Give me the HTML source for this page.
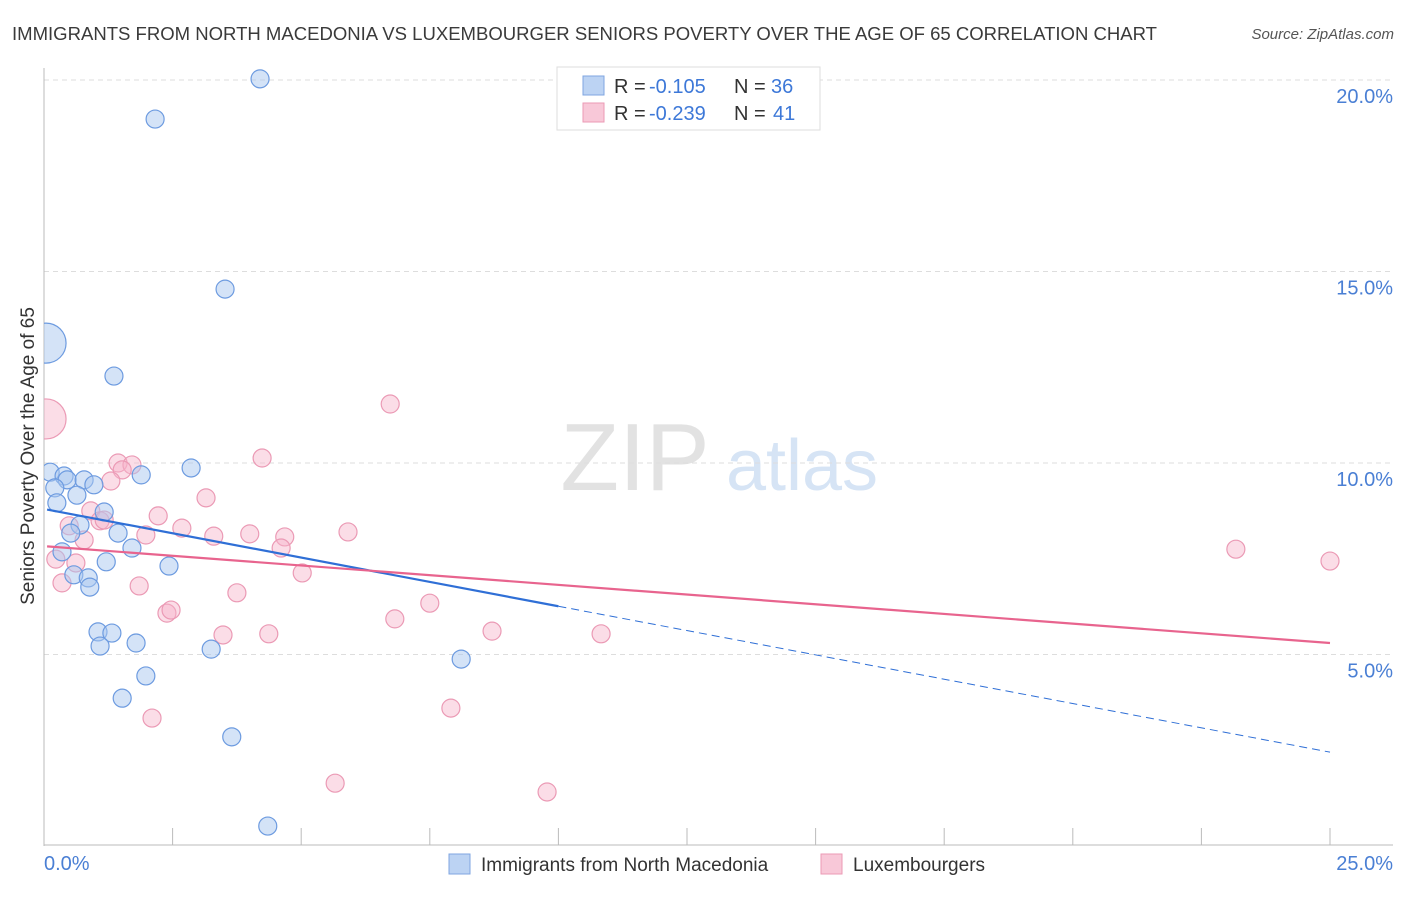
<!DOCTYPE html>
<html><head><meta charset="utf-8"><style>
body{margin:0;background:#fff;font-family:"Liberation Sans",sans-serif;}
svg text{font-family:"Liberation Sans",sans-serif;}
</style></head><body>
<svg id="chart" width="1406" height="892">
<defs><clipPath id="plotclip"><rect x="44" y="60" width="1360" height="786"/></clipPath></defs>
<text x="12" y="40" font-size="18.2" fill="#3a3a3a" textLength="1145" lengthAdjust="spacingAndGlyphs">IMMIGRANTS FROM NORTH MACEDONIA VS LUXEMBOURGER SENIORS POVERTY OVER THE AGE OF 65 CORRELATION CHART</text>
<text x="1394" y="39" font-size="15" fill="#555" font-style="italic" text-anchor="end">Source: ZipAtlas.com</text>
<g>
<text x="635" y="490" font-size="96" fill="#e2e2e2" font-family="Liberation Serif,serif" text-anchor="middle">ZIP</text>
<text x="802" y="490" font-size="72" fill="#d6e4f5" text-anchor="middle">atlas</text>
</g>
<g id="grid"></g>
<g id="axes"></g>
<g id="marks" clip-path="url(#plotclip)"></g>
<text transform="translate(34,456) rotate(-90)" font-size="19" fill="#333" text-anchor="middle">Seniors Poverty Over the Age of 65</text>
<g>
<rect x="557" y="67" width="263" height="63" fill="#fff" stroke="#ddd"/>
<rect x="583" y="76" width="21" height="19" fill="#bcd3f3" stroke="#7fa6e0"/>
<rect x="583" y="103" width="21" height="19" fill="#f8c8d8" stroke="#eb9ab5"/>
<text x="614" y="93" font-size="20" fill="#333">R = </text>
<text x="649" y="93" font-size="20" fill="#3d78d8">-0.105</text>
<text x="734" y="93" font-size="20" fill="#333">N = </text>
<text x="771" y="93" font-size="20" fill="#3d78d8">36</text>
<text x="614" y="120" font-size="20" fill="#333">R = </text>
<text x="649" y="120" font-size="20" fill="#3d78d8">-0.239</text>
<text x="734" y="120" font-size="20" fill="#333">N = </text>
<text x="773" y="120" font-size="20" fill="#3d78d8">41</text>
</g>
<g>
<rect x="449" y="854" width="21" height="20" fill="#bcd3f3" stroke="#7fa6e0"/>
<text x="481" y="871" font-size="19" fill="#333">Immigrants from North Macedonia</text>
<rect x="821" y="854" width="21" height="20" fill="#f8c8d8" stroke="#eb9ab5"/>
<text x="853" y="871" font-size="19" fill="#333">Luxembourgers</text>
</g>
</svg>
<script>
const blueX=[0.12,0.39,0.45,0.21,0.78,0.97,0.64,0.25,1.17,0.70,0.52,1.44,0.35,1.71,1.21,2.43,0.58,0.86,0.89,1.89,2.86,1.05,1.32,1.09,1.79,1.98,1.52,3.25,3.65,4.35,8.11,3.52,1.36,2.16,4.20,0.04];
const blueY=[9.76,9.66,9.56,9.35,9.56,9.43,9.16,8.96,8.72,8.38,8.17,8.17,7.68,7.78,7.42,7.31,7.08,7.00,6.76,9.69,9.87,5.59,5.56,5.22,5.30,4.44,3.86,5.14,2.85,0.52,4.88,14.54,12.27,18.98,20.03,13.13];
const blueBig=[35];
const pinkX=[0.04,1.44,1.71,1.52,1.30,4.24,6.73,3.15,2.22,0.91,1.09,0.49,2.68,0.78,1.98,3.30,4.00,4.68,5.91,4.61,0.23,0.62,0.35,1.85,5.02,3.75,2.39,2.47,7.50,3.48,4.37,6.82,8.71,10.83,2.10,7.91,5.66,9.78,23.17,25.0,1.17];
const pinkY=[11.15,10.0,9.95,9.82,9.53,10.13,11.54,9.09,8.62,8.75,8.49,8.36,8.30,7.99,8.12,8.09,8.15,8.07,8.20,7.78,7.49,7.39,6.87,6.79,7.13,6.61,6.08,6.16,6.34,5.51,5.54,5.93,5.61,5.54,3.34,3.60,1.64,1.41,7.75,7.44,8.51];
const pinkBig=[0];
const blueTrend=[8.80,2.45];
const pinkTrend=[7.83,5.30];
const yTicks=[5,10,15,20];
const yTickLabels=["5.0%","10.0%","15.0%","20.0%"];
const xTickLabels=["0.0%","25.0%"];

const NS="http://www.w3.org/2000/svg";
const sx=v=>44+v*51.44, sy=v=>846-v*38.3;
function mk(parent,tag,attrs){const e=document.createElementNS(NS,tag);for(const k in attrs)e.setAttribute(k,attrs[k]);document.getElementById(parent).appendChild(e);return e;}
yTicks.forEach((t,i)=>{
  const g=mk('grid','line',{x1:44,x2:1393,y1:sy(t),y2:sy(t),stroke:'#ddd','stroke-dasharray':'5,4'});
  
  
  const l=mk('axes','text',{x:1393,y:sy(t)+23,'font-size':20,fill:'#4a7fd4','text-anchor':'end'});
  l.textContent=yTickLabels[i];
  
  
});
const ya=mk('axes','line',{x1:44,x2:44,y1:68,y2:846,stroke:'#bbb'});


const xa=mk('axes','line',{x1:44,x2:1393,y1:845,y2:845,stroke:'#bbb'});


for(let i=0;i<=10;i++){const t=mk('axes','line',{x1:sx(i*2.5),x2:sx(i*2.5),y1:828,y2:845,stroke:'#bbb'});
  
  }
[[0,'start',44],[25,'end',1393]].forEach((a,i)=>{const l=mk('axes','text',{x:a[2],y:870,'font-size':20,fill:'#4a7fd4','text-anchor':a[1]});l.textContent=xTickLabels[i];
  
  });
function pts(X,Y,big,fill,stroke,name){X.forEach((x,i)=>{const c=mk('marks','circle',{cx:sx(x),cy:sy(Y[i]),r:big.includes(i)?20:9,fill:fill,stroke:stroke,'stroke-width':1.2});
  
  });}
pts(pinkX,pinkY,pinkBig,'rgba(246,180,202,0.45)','#eb9ab5','luxembourger-point');
pts(blueX,blueY,blueBig,'rgba(170,200,240,0.5)','#6d9be0','macedonia-point');
const bEnd=10;
const bv=x=>blueTrend[0]+(blueTrend[1]-blueTrend[0])*x/25;
const b1=mk('marks','line',{x1:sx(0.06),y1:sy(bv(0.06)),x2:sx(bEnd),y2:sy(bv(bEnd)),stroke:'#2f6fd6','stroke-width':2.2});


const b2=mk('marks','line',{x1:sx(bEnd),y1:sy(bv(bEnd)),x2:sx(25),y2:sy(bv(25)),stroke:'#2f6fd6','stroke-width':1,'stroke-dasharray':'8,5'});


const pv=x=>pinkTrend[0]+(pinkTrend[1]-pinkTrend[0])*x/25;
const p1=mk('marks','line',{x1:sx(0.06),y1:sy(pv(0.06)),x2:sx(25),y2:sy(pv(25)),stroke:'#e8648e','stroke-width':2.2});


</script>
</body></html>
